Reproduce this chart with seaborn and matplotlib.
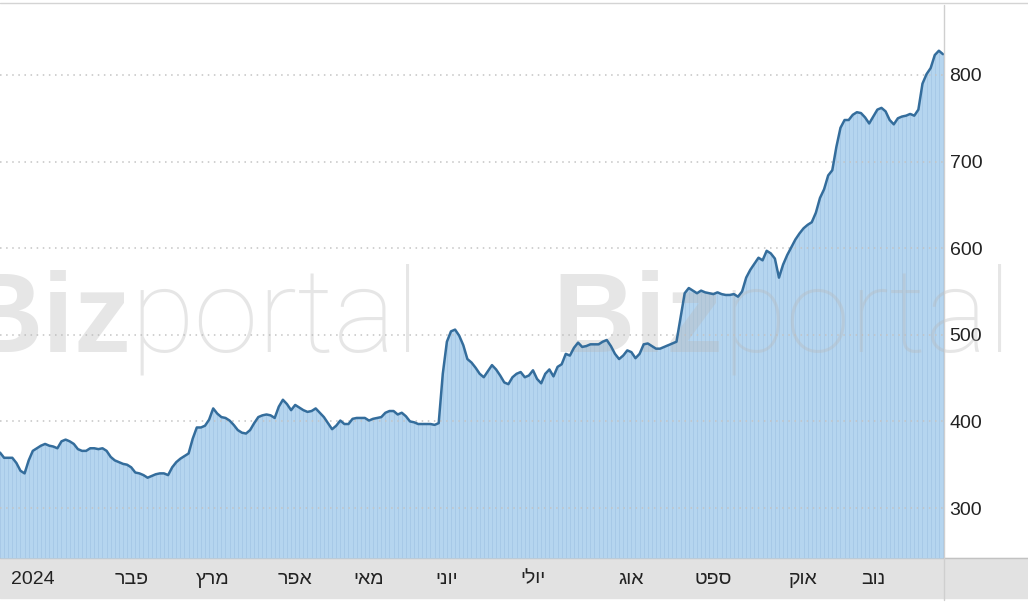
import numpy as np
import pandas as pd
import matplotlib.pyplot as plt
import seaborn as sns
from matplotlib.patches import Rectangle
from matplotlib.lines import Line2D

# daily closing prices
prices = [
    364, 358, 358, 358, 352, 343, 340, 355, 366, 369,
    372, 374, 372, 371, 369, 377, 379, 377, 374, 368,
    366, 366, 369, 369, 368, 369, 366, 359, 355, 353,
    351, 350, 347, 341, 340, 338, 335, 337, 339, 340,
    340, 338, 347, 353, 357, 360, 363, 380, 393, 393,
    395, 402, 415, 409, 405, 404, 401, 396, 390, 387,
    386, 390, 398, 405, 407, 408, 407, 404, 417, 425,
    420, 413, 419, 416, 413, 411, 412, 415, 410, 405,
    398, 391, 395, 401, 397, 397, 403, 404, 404, 404,
    401, 403, 404, 405, 410, 412, 412, 408, 410, 406,
    400, 399, 397, 397, 397, 397, 396, 398, 455, 492,
    504, 506, 499, 488, 472, 468, 462, 455, 451, 458,
    465, 460, 453, 445, 443, 451, 455, 457, 451, 453,
    459, 449, 444, 455, 460, 452, 463, 466, 478, 476,
    485, 491, 486, 487, 489, 489, 489, 492, 494, 487,
    478, 472, 476, 482, 480, 473, 478, 489, 490, 487,
    484, 484, 486, 488, 490, 492, 520, 548, 554, 551,
    548, 551, 549, 548, 547, 549, 547, 546, 546, 547,
    544, 550, 566, 575, 582, 589, 586, 597, 594, 588,
    566, 581, 592, 601, 610, 617, 623, 627, 630, 641,
    658, 668, 684, 690, 717, 739, 748, 748, 754, 757,
    756, 751, 744, 752, 760, 762, 758, 748, 743, 750,
    752, 753, 755, 753, 760, 790, 801, 808, 823, 828,
    824,
]
month_labels = ["2024", "פבר", "מרץ", "אפר", "מאי", "יוני", "יולי", "אוג", "ספט", "אוק", "נוב"]
month_ticks = [8, 32, 52, 72, 90, 109, 130, 154, 174, 196, 213]
y_ticks = [300, 400, 500, 600, 700, 800]

df = pd.DataFrame({"day": np.arange(len(prices)), "price": prices})

sns.set_style("white")
plt.rcParams['font.family'] = ['Liberation Sans', 'DejaVu Sans']

W, H = 1028, 602
fig = plt.figure(figsize=(W / 100, H / 100), dpi=100)
ax = fig.add_axes([0, 44 / H, 944 / W, 555 / H])
ax.set_zorder(2)

y_lo, y_hi = 242.3, 883.1
fill_col = "#b5d5ef"
line_col = "#346d9c"

ax.fill_between(df["day"], df["price"], y_lo, color=fill_col, lw=0, zorder=1)
# thin daily columns inside the area
ax.vlines(df["day"], y_lo, df["price"], colors="#a7c9e7", lw=0.7, zorder=1.2)
sns.lineplot(data=df, x="day", y="price", ax=ax, color=line_col, linewidth=1.8, zorder=4)

ax.set_xlim(0, len(prices) - 0.75)
ax.set_ylim(y_lo, y_hi)

# matplotlib draws left to right, so flip the hebrew words
def visual(s):
    return s if s.isdigit() else s[::-1]

ax.set_xticks(month_ticks, [visual(s) for s in month_labels])
ax.set_yticks(y_ticks, [str(v) for v in y_ticks])
ax.yaxis.tick_right()
ax.tick_params(axis="x", length=0, pad=9, labelsize=14, colors="#222222")
ax.tick_params(axis="y", length=0, pad=4, labelsize=14, colors="#222222")
ax.set_xlabel("")
ax.set_ylabel("")

ax.set_axisbelow("line")
ax.yaxis.grid(True, color="#c4c4c4", linestyle=(0, (1, 3)), linewidth=1.1)
ax.xaxis.grid(False)
for s in ax.spines.values():
    s.set_visible(False)

# watermark
for x0 in (-40, 552):
    ax.text(x0 / W, 0.4153, "Biz", transform=fig.transFigure, fontsize=82,
            fontweight="bold", color="#b8b8b8", alpha=0.35, zorder=2, clip_on=False)
    ax.text((x0 + 170) / W, 0.4153, "portal", transform=fig.transFigure, fontsize=84,
            fontweight="light", family=["Roboto", "Liberation Sans"], color="#b8b8b8",
            alpha=0.35, zorder=2, clip_on=False)

# bottom band, frame lines
fig.patches.append(Rectangle((0, 4 / H), 1, 40 / H, transform=fig.transFigure,
                             color="#e2e2e2", zorder=-1))
fig.lines.append(Line2D([0, 1], [44 / H, 44 / H], transform=fig.transFigure,
                        color="#c2c2c2", lw=1, zorder=-0.5))
fig.lines.append(Line2D([0, 1], [1 - 3 / H, 1 - 3 / H], transform=fig.transFigure,
                        color="#d4d4d4", lw=1, zorder=3))
fig.lines.append(Line2D([944 / W, 944 / W], [2 / H, 1 - 5 / H], transform=fig.transFigure,
                        color="#cfcfcf", lw=1, zorder=3))

fig.savefig("out.png", dpi=100)
